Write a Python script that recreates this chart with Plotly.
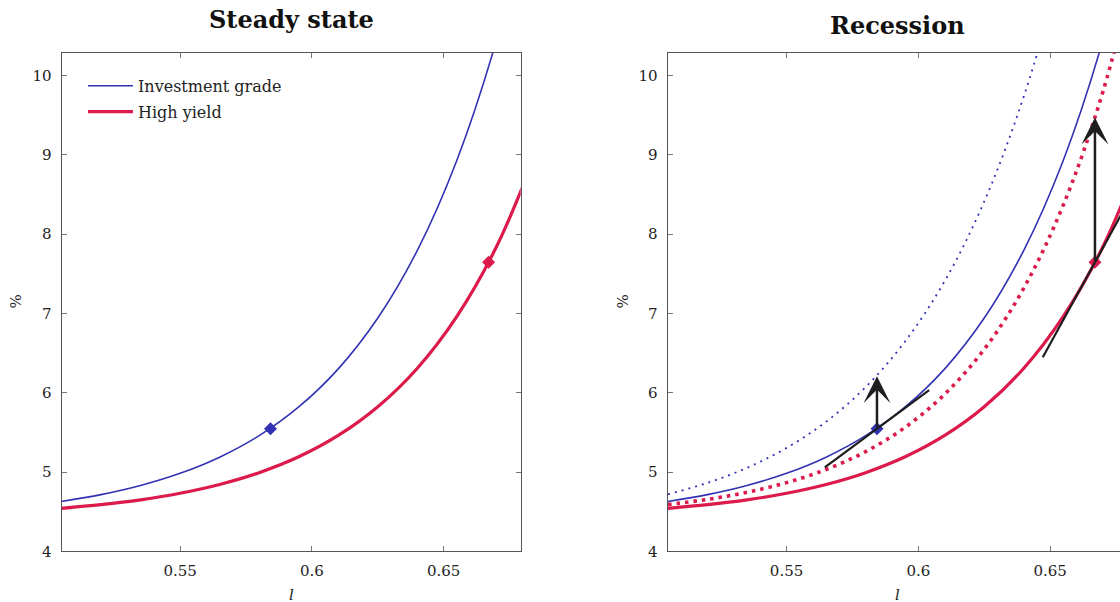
import plotly.graph_objects as go

# ---------------- data ----------------
l_grid = [0.505, 0.52, 0.535, 0.55, 0.565, 0.58, 0.595, 0.61, 0.625, 0.64, 0.655, 0.67, 0.685]

ig_steady = [4.63, 4.716, 4.831, 4.984, 5.188, 5.459, 5.821, 6.302, 6.943, 7.796, 8.933, 10.446, 12.46]
hy_steady = [4.543, 4.589, 4.650, 4.733, 4.844, 4.993, 5.193, 5.462, 5.824, 6.310, 6.964, 7.841, 9.02]
ig_recession = [4.72, 4.864, 5.054, 5.305, 5.635, 6.072, 6.649, 7.409, 8.413, 9.738, 11.49, 13.8, 16.9]
hy_recession = [4.59, 4.656, 4.745, 4.867, 5.033, 5.258, 5.565, 5.982, 6.549, 7.320, 8.369, 9.795, 11.73]

point_l = [0.5843, 0.667]          # IG, HY steady-state points
point_y = [5.546, 7.645]
arrow_tip_y = [6.21, 9.47]         # shifted values in recession

tangent_half = 0.0198
tangent_slope = [24.6, 60.5]

x_ticks = [0.55, 0.6, 0.65]
x_tick_text = ["0.55", "0.6", "0.65"]
y_ticks = [4, 5, 6, 7, 8, 9, 10]

BLUE = "#3232B4"
RED = "#DC1A4B"
BLACK = "#1E1E1E"
FONT = "DejaVu Serif"

W = 1120
H_REF = 602        # target picture height
H = 610            # page canvas height (picture is fitted to 602 px tall)


def fy(ypx):
    return 1 - ypx / H_REF


fig = go.Figure()

# ---------------- Steady state (left) ----------------
fig.add_trace(go.Scatter(x=l_grid, y=ig_steady, mode="lines", name="Investment grade",
                         line=dict(color=BLUE, width=1.6, shape="spline"),
                         legendgroup="ig", xaxis="x", yaxis="y"))
fig.add_trace(go.Scatter(x=l_grid, y=hy_steady, mode="lines", name="High yield",
                         line=dict(color=RED, width=3.2, shape="spline"),
                         legendgroup="hy", xaxis="x", yaxis="y"))
fig.add_trace(go.Scatter(x=[point_l[0]], y=[point_y[0]], mode="markers", showlegend=False,
                         marker=dict(symbol="diamond", size=10, color=BLUE), xaxis="x", yaxis="y"))
fig.add_trace(go.Scatter(x=[point_l[1]], y=[point_y[1]], mode="markers", showlegend=False,
                         marker=dict(symbol="diamond", size=10, color=RED), xaxis="x", yaxis="y"))

# ---------------- Recession (right) ----------------
fig.add_trace(go.Scatter(x=l_grid, y=ig_recession, mode="lines", showlegend=False,
                         line=dict(color=BLUE, width=1.8, shape="spline", dash="2px,5px"),
                         xaxis="x2", yaxis="y2"))
fig.add_trace(go.Scatter(x=l_grid, y=hy_recession, mode="lines", showlegend=False,
                         line=dict(color=RED, width=3.6, shape="spline", dash="3.5px,5px"),
                         xaxis="x2", yaxis="y2"))
fig.add_trace(go.Scatter(x=l_grid, y=ig_steady, mode="lines", showlegend=False,
                         line=dict(color=BLUE, width=1.6, shape="spline"), xaxis="x2", yaxis="y2"))
fig.add_trace(go.Scatter(x=l_grid, y=hy_steady, mode="lines", showlegend=False,
                         line=dict(color=RED, width=3.2, shape="spline"), xaxis="x2", yaxis="y2"))
for i, col in enumerate([BLUE, RED]):
    fig.add_trace(go.Scatter(x=[point_l[i]], y=[point_y[i]], mode="markers", showlegend=False,
                             marker=dict(symbol="diamond", size=10, color=col), xaxis="x2", yaxis="y2"))
    tx = [point_l[i] - tangent_half, point_l[i] + tangent_half]
    ty = [point_y[i] - tangent_slope[i] * tangent_half, point_y[i] + tangent_slope[i] * tangent_half]
    fig.add_trace(go.Scatter(x=tx, y=ty, mode="lines", showlegend=False,
                             line=dict(color=BLACK, width=2.2), xaxis="x2", yaxis="y2"))
    fig.add_annotation(x=point_l[i], y=arrow_tip_y[i], ax=point_l[i], ay=point_y[i],
                       xref="x2", yref="y2", axref="x2", ayref="y2", text="",
                       showarrow=True, arrowhead=3, arrowsize=1.8, arrowwidth=2.5,
                       arrowcolor=BLACK)

# ---------------- axes ----------------
ydom = [fy(552.3), fy(53)]
axis_common = dict(showgrid=False, zeroline=False, showline=True, linecolor="#555555", linewidth=1.2,
                   ticks="inside", ticklen=5, tickwidth=1, tickcolor="#777777",
                   tickfont=dict(family=FONT, size=15, color="#222222"))
fig.update_layout(
    xaxis=dict(domain=[61.7 / W, 520.7 / W], range=[0.5051, 0.6792], tickvals=x_ticks,
               ticktext=x_tick_text, anchor="y", mirror="ticks", ticklabelstandoff=6, **axis_common),
    yaxis=dict(domain=ydom, range=[4, 10.286], tickvals=y_ticks, anchor="x",
               mirror="ticks", ticklabelstandoff=6, **axis_common),
    xaxis2=dict(domain=[667.7 / W, 1.0], range=[0.5049, 0.6765], tickvals=x_ticks,
                ticktext=x_tick_text, anchor="y2", mirror="ticks", ticklabelstandoff=6, **axis_common),
    yaxis2=dict(domain=ydom, range=[4, 10.286], tickvals=y_ticks, anchor="x2",
                mirror=False, ticklabelstandoff=6, **axis_common),
)

# ---------------- titles & axis labels ----------------
def label(xpx, ypx, text, size, angle=0, color="#222222"):
    fig.add_annotation(x=xpx / W, y=fy(ypx), xref="paper", yref="paper", text=text,
                       xanchor="center", yanchor="middle", textangle=angle,
                       showarrow=False, font=dict(family=FONT, size=size, color=color))

label(291.2, 20, "<b>Steady state</b>", 24, color="#111111")
label(897.2, 26, "<b>Recession</b>", 24, color="#111111")
for xc in [291.2, 897.2]:
    label(xc, 596, "<i>l</i>", 15)
for xc in [16, 623]:
    label(xc, 302, "%", 15, angle=-90)

fig.update_layout(
    width=W, height=H, autosize=False,
    margin=dict(l=0, r=0, t=0, b=0),
    paper_bgcolor="white", plot_bgcolor="white",
    showlegend=True,
    legend=dict(x=83 / W, y=fy(69), xanchor="left", yanchor="top",
                bgcolor="rgba(0,0,0,0)", borderwidth=0, traceorder="grouped",
                tracegroupgap=2, itemwidth=45,
                font=dict(family=FONT, size=16, color="#222222")),
)

page_css = ("document.documentElement.style.margin='0';"
            "document.documentElement.style.overflow='hidden';"
            "document.body.style.margin='0';"
            "document.body.style.overflow='hidden';")

fig.write_html("out.html", config={"displayModeBar": False}, post_script=page_css)
